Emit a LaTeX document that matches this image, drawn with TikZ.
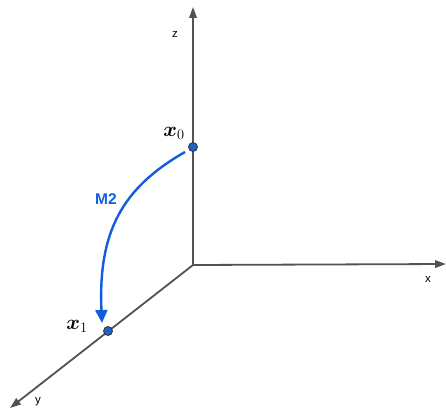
\documentclass[tikz,border=0pt]{standalone}
\usepackage{amsmath,bm}
\usepackage[no-math]{fontspec}
\setmainfont{Liberation Sans}
\usetikzlibrary{arrows.meta}
\definecolor{mblue}{RGB}{18,92,222}
\definecolor{dotblue}{RGB}{30,98,196}
\begin{document}
\begin{tikzpicture}[x=1pt,y=-1pt,
  axis/.style={draw=black!68,line width=1.8pt,-{Triangle[length=11pt,width=7.5pt]}},
  axlabel/.style={font=\fontsize{11.5}{13}\selectfont,text=black},
  pt/.style={circle,draw=black!80,fill=dotblue,line width=0.8pt,minimum size=9pt,inner sep=0pt},
  movearrow/.style={draw=mblue,line width=2.4pt,-{Triangle[length=13pt,width=12pt]}}]
\useasboundingbox (0,0) rectangle (446,409);
\coordinate (o) at (193,265);
\coordinate (zend) at (193,7);
\coordinate (xend) at (446,264);
\coordinate (yend) at (10,408);
\draw[axis] (o) -- (zend);
\draw[axis] (o) -- (xend);
\draw[axis] (o) -- (yend);
\node[axlabel] (zl) at (175,34) {z};
\node[axlabel] (xl) at (428,279) {x};
\node[axlabel] (yl) at (38,402) {y};
\node[pt] (p0) at (193,147) {};
\node[pt] (p1) at (108,331) {};
\node (l0) at (174,133) {\fontsize{21}{24}\selectfont$\bm{x}_0$};
\node (l1) at (77,326) {\fontsize{21}{24}\selectfont$\bm{x}_1$};
\coordinate (s) at (185,152);
\coordinate (e) at (102,323);
\draw[movearrow] (s) .. controls (122,188) and (98,232) .. (e);
\node[text=mblue,font=\bfseries\fontsize{15.5}{18}\selectfont] (m2) at (106,199) {M2};
\end{tikzpicture}
\end{document}
